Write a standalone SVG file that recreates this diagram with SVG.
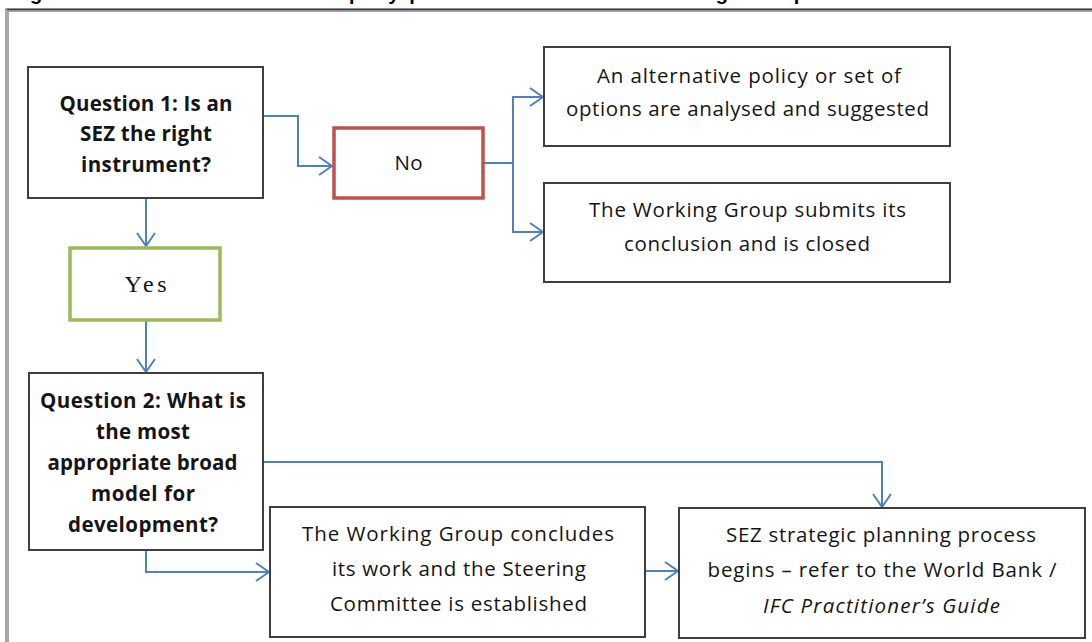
<svg xmlns="http://www.w3.org/2000/svg" width="1092" height="642" viewBox="0 0 1092 642">
<defs>
<marker id="arr" markerUnits="userSpaceOnUse" markerWidth="30" markerHeight="30" viewBox="-15 -15 30 30" refX="0" refY="0" orient="auto">
<path d="M-13 -9 L0 0 L-13 9" fill="none" stroke="#4F81BD" stroke-width="2"/>
</marker>
</defs>
<style>
.box{fill:#fff;stroke:#3f3f3f;stroke-width:2}
.no{fill:#fff;stroke:#C0504D;stroke-width:3.5}
.yes{fill:#fff;stroke:#9BBB59;stroke-width:3.5}
.t{font-family:"Open Sans","Liberation Sans",sans-serif;font-size:20.5px;fill:#151515;text-anchor:middle}
.b{font-weight:bold}
.i{font-style:italic}
.c{fill:none;stroke:#4F81BD;stroke-width:2;marker-end:url(#arr)}
</style>
<rect width="1092" height="642" fill="#fff"/>
<g id="frame">
<path d="M7 642 V10 H1092" fill="none" stroke="#a8a8a8" stroke-width="4"/>
<path d="M7 9.5 H1092" fill="none" stroke="#404040" stroke-width="1.5"/>
<text x="8" y="0" font-family="Liberation Sans, sans-serif" font-size="20" font-weight="bold" textLength="798" lengthAdjust="spacing">Figure 4: Schematic of the inquiry process of the SEZ Working Group</text>
</g>
<g id="connectors">
<path class="c" d="M263 116 H298 V166 H332"/>
<path class="c" d="M483 163 H513 V97 H543"/>
<path class="c" d="M513 163 V232 H543"/>
<path class="c" d="M146 198 V246"/>
<path class="c" d="M146 320 V372"/>
<path class="c" d="M263 462 H882 V507"/>
<path class="c" d="M146 550 V572 H269"/>
<path class="c" d="M645 571 H678"/>
</g>
<g id="q1">
<rect class="box" x="28" y="67" width="235" height="131"/>
<text class="t b" x="146" y="111" textLength="173" lengthAdjust="spacing">Question 1: Is an</text>
<text class="t b" x="146" y="141" textLength="132" lengthAdjust="spacing">SEZ the right</text>
<text class="t b" x="146" y="172" textLength="130" lengthAdjust="spacing">instrument?</text>
</g>
<g id="no">
<rect class="no" x="334" y="128" width="149" height="70"/>
<text class="t" x="408.5" y="170" font-size="21" textLength="28" lengthAdjust="spacing">No</text>
</g>
<g id="alternative">
<rect class="box" x="544" y="47" width="406" height="99"/>
<text class="t" x="749" y="83" textLength="304" lengthAdjust="spacing">An alternative policy or set of</text>
<text class="t" x="747.5" y="116" textLength="363" lengthAdjust="spacing">options are analysed and suggested</text>
</g>
<g id="closed">
<rect class="box" x="544" y="183" width="406" height="99"/>
<text class="t" x="747.5" y="217" textLength="317" lengthAdjust="spacing">The Working Group submits its</text>
<text class="t" x="747" y="251" textLength="246" lengthAdjust="spacing">conclusion and is closed</text>
</g>
<g id="yes">
<rect class="yes" x="70" y="248" width="150" height="72"/>
<text x="145.5" y="292" font-family="Liberation Serif, serif" font-size="24" fill="#151515" text-anchor="middle" textLength="42" lengthAdjust="spacing">Yes</text>
</g>
<g id="q2">
<rect class="box" x="29" y="373" width="234" height="177"/>
<text class="t b" x="143" y="408" textLength="206" lengthAdjust="spacing">Question 2: What is</text>
<text class="t b" x="143" y="439" textLength="94" lengthAdjust="spacing">the most</text>
<text class="t b" x="142.5" y="470" textLength="190" lengthAdjust="spacing">appropriate broad</text>
<text class="t b" x="143" y="501" textLength="104" lengthAdjust="spacing">model for</text>
<text class="t b" x="143" y="532" textLength="150" lengthAdjust="spacing">development?</text>
</g>
<g id="concludes">
<rect class="box" x="270" y="507" width="375" height="130"/>
<text class="t" x="458" y="541" textLength="312" lengthAdjust="spacing">The Working Group concludes</text>
<text class="t" x="459" y="576" textLength="254" lengthAdjust="spacing">its work and the Steering</text>
<text class="t" x="458.5" y="611" textLength="257" lengthAdjust="spacing">Committee is established</text>
</g>
<g id="sez">
<rect class="box" x="679" y="508" width="406" height="130"/>
<text class="t" x="881" y="542" textLength="310" lengthAdjust="spacing">SEZ strategic planning process</text>
<text class="t" x="882" y="577" textLength="349" lengthAdjust="spacing">begins – refer to the World Bank /</text>
<text class="t i" x="881.5" y="613" textLength="237" lengthAdjust="spacing">IFC Practitioner’s Guide</text>
</g>
</svg>
